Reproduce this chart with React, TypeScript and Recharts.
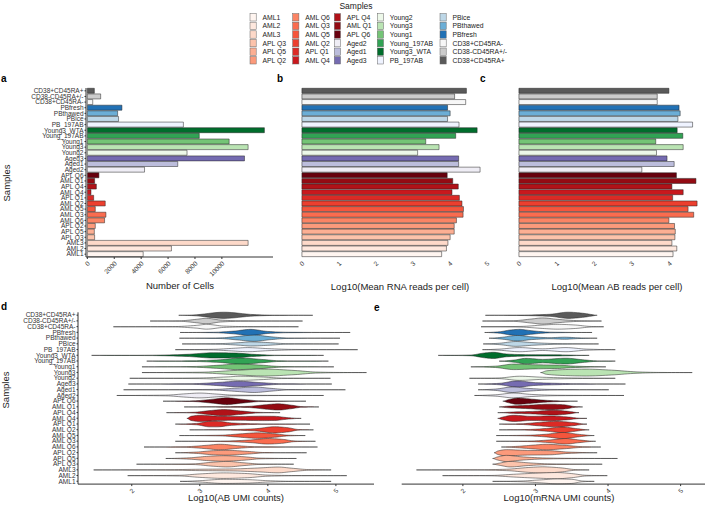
import React from "react";
import { BarChart, Bar, Cell, XAxis, YAxis } from "recharts";

const FONT = '"Liberation Sans", Arial, sans-serif';

// samples, top to bottom as drawn
const samples = [
  "CD38+CD45RA+", "CD38-CD45RA+/-", "CD38+CD45RA-", "PBfresh", "PBthawed", "PBice", "PB_197AB",
  "Young3_WTA", "Young_197AB", "Young1", "Young3", "Young2", "Aged3", "Aged1", "Aged2",
  "APL Q6", "AML Q1", "APL Q4", "AML Q4", "APL Q1", "AML Q2", "AML Q5", "AML Q3", "AML Q6",
  "APL Q2", "APL Q5", "APL Q3", "AML3", "AML2", "AML1",
];

const sampleColors = [
  "#5a5a5a", "#cccccc", "#f7f7f7", "#2171b5", "#6baed6", "#bdd7e7", "#eff3ff",
  "#006d2c", "#31a354", "#74c476", "#bae4b3", "#edf8e9", "#756bb1", "#bcbddc", "#efedf5",
  "#67000d", "#940b13", "#b11218", "#c9181d", "#dc2a25", "#ec3f2f", "#f5553c", "#fa6c4f", "#fb8464",
  "#fc9a7b", "#fcaf93", "#fcc3ab", "#fdd9c9", "#fee8de", "#fff5f0",
];

const cellCounts = [
  520, 990, 400, 2570, 2250, 2320, 7140, 13160, 8320, 10540, 11950, 7410, 11680, 6720, 4250,
  860, 540, 670, 270, 470, 1330, 590, 1380, 1280, 590, 520, 540, 11950, 6250, 4150,
];

const rnaReads = [
  4.45, 4.13, 4.43, 3.94, 4.01, 3.94, 4.25, 4.74, 4.16, 3.35, 3.71, 3.13, 4.24, 4.24, 4.82,
  3.93, 4.08, 4.23, 4.06, 4.26, 4.33, 4.37, 4.36, 4.18, 4.12, 4.12, 4.01, 3.95, 3.91, 3.78,
];

const abReads = [
  3.99, 3.68, 3.68, 4.26, 4.29, 4.23, 4.62, 4.21, 4.36, 3.64, 4.37, 3.66, 3.94, 4.13, 3.27,
  4.19, 4.71, 4.07, 4.37, 4.09, 4.74, 4.5, 4.65, 3.99, 4.14, 4.16, 4.15, 4.07, 4.2, 4.1,
];

const cellTicks = [0, 2000, 4000, 6000, 8000, 10000];
const rnaTicks = [0, 1, 2, 3, 4, 5];
const abTicks = [0, 1, 2, 3, 4];
const umiTicks = [2, 3, 4, 5];

// violin outlines: [log10 count, half width as share of a row]
const abUmiViolins = [
  [[2.69, 0], [2.9, 0.05], [3.35, 0.45], [3.8, 0.1], [4.1, 0.02], [4.66, 0]],
  [[2.27, 0], [2.7, 0.03], [2.95, 0.25], [3.1, 0.4], [3.3, 0.15], [3.6, 0.03], [4.51, 0]],
  [[1.73, 0], [2.6, 0.02], [2.95, 0.2], [3.1, 0.35], [3.35, 0.1], [3.7, 0.02], [4.45, 0]],
  [[2.71, 0], [3.2, 0.03], [3.5, 0.2], [3.75, 0.45], [4.0, 0.15], [4.3, 0.03], [5.21, 0]],
  [[2.7, 0], [3.3, 0.05], [3.55, 0.25], [3.8, 0.45], [4.05, 0.2], [4.3, 0.03], [5.06, 0]],
  [[2.74, 0], [3.3, 0.05], [3.6, 0.2], [3.75, 0.3], [4.0, 0.2], [4.3, 0.03], [5.04, 0]],
  [[2.64, 0], [3.2, 0.05], [3.5, 0.2], [3.7, 0.3], [4.0, 0.15], [4.4, 0.03], [5.32, 0]],
  [[1.41, 0], [2.3, 0.03], [2.8, 0.15], [3.2, 0.38], [3.5, 0.35], [3.8, 0.15], [4.1, 0.03], [4.82, 0]],
  [[2.22, 0], [2.9, 0.05], [3.3, 0.2], [3.6, 0.45], [3.9, 0.25], [4.2, 0.04], [4.89, 0]],
  [[2.15, 0], [2.9, 0.05], [3.3, 0.25], [3.55, 0.4], [3.9, 0.25], [4.2, 0.05], [4.97, 0]],
  [[2.15, 0], [3.0, 0.05], [3.5, 0.3], [3.95, 0.5], [4.4, 0.3], [4.7, 0.08], [5.0, 0.02], [5.45, 0]],
  [[1.97, 0], [3.0, 0.05], [3.4, 0.2], [3.6, 0.3], [3.9, 0.2], [4.2, 0.04], [4.92, 0]],
  [[1.95, 0], [2.9, 0.05], [3.3, 0.25], [3.55, 0.4], [3.9, 0.2], [4.2, 0.04], [4.94, 0]],
  [[1.88, 0], [3.2, 0.05], [3.55, 0.25], [3.8, 0.4], [4.05, 0.2], [4.3, 0.03], [5.14, 0]],
  [[1.78, 0], [2.5, 0.05], [2.8, 0.25], [3.0, 0.35], [3.25, 0.2], [3.5, 0.05], [4.82, 0]],
  [[2.46, 0], [2.9, 0.05], [3.2, 0.3], [3.4, 0.5], [3.6, 0.3], [3.9, 0.05], [4.56, 0]],
  [[2.77, 0], [3.3, 0.03], [3.7, 0.08], [3.95, 0.3], [4.15, 0.45], [4.35, 0.25], [4.5, 0.05], [4.75, 0]],
  [[2.51, 0], [2.9, 0.05], [3.15, 0.3], [3.35, 0.45], [3.6, 0.25], [3.85, 0.05], [4.18, 0]],
  [[2.81, 0], [2.87, 0.3], [3.0, 0.45], [3.3, 0.3], [3.6, 0.28], [3.9, 0.32], [4.1, 0.3], [4.3, 0.1], [4.49, 0]],
  [[2.64, 0], [2.95, 0.1], [3.15, 0.4], [3.25, 0.4], [3.5, 0.15], [3.9, 0.03], [4.62, 0]],
  [[2.85, 0], [3.4, 0.03], [3.8, 0.15], [4.1, 0.45], [4.3, 0.3], [4.45, 0.05], [4.67, 0]],
  [[2.7, 0], [3.3, 0.05], [3.6, 0.25], [3.85, 0.4], [4.1, 0.25], [4.3, 0.05], [4.55, 0]],
  [[2.64, 0], [3.4, 0.05], [3.75, 0.2], [4.0, 0.4], [4.2, 0.3], [4.4, 0.05], [4.7, 0]],
  [[2.18, 0], [2.8, 0.05], [3.1, 0.25], [3.3, 0.4], [3.55, 0.2], [3.8, 0.05], [4.73, 0]],
  [[2.64, 0], [2.95, 0.1], [3.2, 0.3], [3.4, 0.35], [3.7, 0.2], [3.95, 0.03], [4.57, 0]],
  [[2.5, 0], [2.85, 0.1], [3.1, 0.3], [3.35, 0.4], [3.65, 0.25], [3.9, 0.05], [4.42, 0]],
  [[2.07, 0], [2.9, 0.05], [3.2, 0.3], [3.4, 0.4], [3.65, 0.2], [3.9, 0.03], [4.38, 0]],
  [[1.44, 0], [2.5, 0.03], [3.0, 0.1], [3.5, 0.15], [3.9, 0.3], [4.15, 0.42], [4.35, 0.25], [4.6, 0.05], [4.93, 0]],
  [[1.94, 0], [2.7, 0.05], [3.0, 0.25], [3.35, 0.4], [3.7, 0.3], [4.0, 0.08], [4.4, 0.02], [5.16, 0]],
  [[2.71, 0], [3.0, 0.1], [3.35, 0.3], [3.7, 0.25], [4.0, 0.1], [4.3, 0.02], [4.93, 0]],
];

const rnaUmiViolins = [
  [[2.31, 0], [2.8, 0.03], [3.2, 0.15], [3.45, 0.45], [3.65, 0.3], [3.78, 0.1], [3.85, 0]],
  [[2.27, 0], [2.7, 0.05], [2.95, 0.3], [3.1, 0.45], [3.3, 0.25], [3.6, 0.05], [3.91, 0]],
  [[2.25, 0], [2.8, 0.05], [3.1, 0.25], [3.3, 0.35], [3.55, 0.25], [3.75, 0.05], [3.94, 0]],
  [[2.3, 0], [2.5, 0.1], [2.65, 0.35], [2.78, 0.45], [2.95, 0.25], [3.2, 0.05], [3.78, 0]],
  [[2.36, 0], [2.55, 0.15], [2.75, 0.4], [2.95, 0.2], [3.2, 0.08], [3.4, 0.15], [3.6, 0.05], [3.85, 0]],
  [[2.28, 0], [2.5, 0.1], [2.73, 0.35], [2.95, 0.2], [3.3, 0.05], [3.87, 0]],
  [[2.27, 0], [2.5, 0.08], [2.78, 0.3], [3.1, 0.12], [3.42, 0.3], [3.7, 0.08], [4.1, 0]],
  [[1.66, 0], [2.1, 0.05], [2.3, 0.35], [2.42, 0.45], [2.6, 0.2], [2.9, 0.1], [3.3, 0.08], [3.6, 0.02], [3.74, 0]],
  [[2.5, 0], [2.7, 0.15], [2.87, 0.4], [3.1, 0.25], [3.42, 0.42], [3.65, 0.2], [3.85, 0.03], [4.1, 0]],
  [[2.11, 0], [2.45, 0.1], [2.7, 0.4], [3.0, 0.3], [3.3, 0.25], [3.55, 0.1], [3.97, 0]],
  [[3.07, 0], [3.15, 0.25], [3.45, 0.45], [3.7, 0.5], [4.05, 0.35], [4.4, 0.1], [4.7, 0.02], [5.16, 0]],
  [[2.09, 0], [2.5, 0.05], [2.78, 0.3], [3.1, 0.15], [3.5, 0.05], [4.1, 0]],
  [[2.21, 0], [2.5, 0.1], [2.75, 0.45], [3.0, 0.2], [3.3, 0.1], [3.6, 0.03], [4.24, 0]],
  [[2.21, 0], [2.45, 0.1], [2.68, 0.4], [2.9, 0.2], [3.2, 0.05], [4.01, 0]],
  [[2.16, 0], [2.45, 0.1], [2.7, 0.35], [2.95, 0.15], [3.3, 0.03], [4.22, 0]],
  [[2.55, 0], [2.62, 0.2], [2.75, 0.45], [2.95, 0.3], [3.2, 0.1], [3.58, 0]],
  [[2.5, 0], [2.6, 0.1], [2.9, 0.25], [3.2, 0.4], [3.4, 0.3], [3.55, 0.05], [3.65, 0]],
  [[2.48, 0], [2.7, 0.1], [3.0, 0.2], [3.25, 0.35], [3.45, 0.2], [3.6, 0]],
  [[2.48, 0], [2.55, 0.2], [2.7, 0.45], [2.95, 0.3], [3.2, 0.35], [3.45, 0.2], [3.6, 0.03], [3.71, 0]],
  [[2.5, 0], [2.8, 0.05], [3.05, 0.25], [3.28, 0.4], [3.5, 0.25], [3.71, 0]],
  [[2.5, 0], [2.9, 0.05], [3.15, 0.2], [3.38, 0.4], [3.55, 0.2], [3.74, 0]],
  [[2.46, 0], [2.9, 0.05], [3.15, 0.2], [3.38, 0.45], [3.58, 0.2], [3.81, 0]],
  [[2.46, 0], [2.95, 0.05], [3.2, 0.2], [3.42, 0.4], [3.6, 0.2], [3.83, 0]],
  [[2.53, 0], [2.75, 0.1], [3.0, 0.3], [3.15, 0.4], [3.4, 0.25], [3.65, 0.05], [3.9, 0]],
  [[2.43, 0], [2.48, 0.25], [2.6, 0.45], [2.85, 0.35], [3.2, 0.3], [3.45, 0.1], [3.85, 0]],
  [[2.41, 0], [2.47, 0.2], [2.6, 0.45], [2.8, 0.25], [3.1, 0.08], [3.5, 0.02], [4.13, 0]],
  [[2.41, 0], [2.5, 0.15], [2.65, 0.4], [2.9, 0.2], [3.2, 0.05], [3.92, 0]],
  [[1.36, 0], [2.2, 0.02], [2.6, 0.1], [2.9, 0.35], [3.1, 0.45], [3.35, 0.3], [3.55, 0.05], [3.74, 0]],
  [[1.72, 0], [2.4, 0.03], [2.7, 0.2], [3.0, 0.35], [3.3, 0.45], [3.5, 0.3], [3.7, 0.05], [3.99, 0]],
  [[2.41, 0], [2.8, 0.05], [3.05, 0.2], [3.3, 0.35], [3.5, 0.3], [3.65, 0.05], [3.81, 0]],
];

type Knot = number[];
type Row = {
  sample: string;
  color: string;
  cells: number;
  rna: number;
  ab: number;
  abV: Knot[];
  rnaV: Knot[];
};

const rows: Row[] = samples.map((s, i) => ({
  sample: s,
  color: sampleColors[i],
  cells: cellCounts[i],
  rna: rnaReads[i],
  ab: abReads[i],
  abV: abUmiViolins[i],
  rnaV: rnaUmiViolins[i],
}));

const INK = "#333";

// monotone cubic through the knots so the outline never dips under zero
function smooth(knots: Knot[], steps = 8): Knot[] {
  const n = knots.length;
  const xs = knots.map((k) => k[0]);
  const ys = knots.map((k) => k[1]);
  const h: number[] = [];
  const d: number[] = [];
  for (let i = 0; i < n - 1; i++) {
    h[i] = xs[i + 1] - xs[i];
    d[i] = (ys[i + 1] - ys[i]) / h[i];
  }
  const m: number[] = new Array(n).fill(0);
  for (let i = 1; i < n - 1; i++) {
    if (d[i - 1] * d[i] > 0) {
      const w1 = 2 * h[i] + h[i - 1];
      const w2 = h[i] + 2 * h[i - 1];
      m[i] = (w1 + w2) / (w1 / d[i - 1] + w2 / d[i]);
    }
  }
  const out: Knot[] = [];
  for (let i = 0; i < n - 1; i++) {
    for (let s = 0; s < steps; s++) {
      const t = s / steps;
      const t2 = t * t;
      const t3 = t2 * t;
      const y =
        (2 * t3 - 3 * t2 + 1) * ys[i] +
        (t3 - 2 * t2 + t) * h[i] * m[i] +
        (-2 * t3 + 3 * t2) * ys[i + 1] +
        (t3 - t2) * h[i] * m[i + 1];
      out.push([xs[i] + t * h[i], Math.max(0, y)]);
    }
  }
  out.push([xs[n - 1], ys[n - 1]]);
  return out;
}

const violinShape = (key: "abV" | "rnaV") => (props: any) => {
  const { x, y, width, height, index } = props;
  const entry: Row = props.payload && props.payload[key] ? props.payload : rows[index];
  const knots = entry[key];
  const lo = knots[0][0];
  const hi = knots[knots.length - 1][0];
  const toX = (v: number) => x + ((v - lo) / (hi - lo)) * width;
  const cy = y + height / 2;
  const pts = smooth(knots);
  const half = height * 1.15;
  const top = pts.map((p) => `${toX(p[0]).toFixed(2)},${(cy - p[1] * half).toFixed(2)}`);
  const bot = pts
    .slice()
    .reverse()
    .map((p) => `${toX(p[0]).toFixed(2)},${(cy + p[1] * half).toFixed(2)}`);
  return (
    <path d={`M${top.join("L")}L${bot.join("L")}Z`} fill={entry.color} stroke="#222" strokeWidth={0.5} />
  );
};

const SlantTick = (props: any) => {
  const { x, y, payload } = props;
  const ax = x + 3;
  const ay = y + 5;
  return (
    <text
      x={ax}
      y={ay}
      transform={`rotate(-45 ${ax} ${ay})`}
      textAnchor="end"
      fontSize={6.5}
      fill={INK}
      fontFamily={FONT}
    >
      {payload.value}
    </text>
  );
};

const sampleTick = { fontSize: 6.5, fill: INK, fontFamily: FONT };

function Panel({ left, top, children }: { left: number; top: number; children: React.ReactNode }) {
  return <div style={{ position: "absolute", left, top }}>{children}</div>;
}

function Legend() {
  const order = samples.slice().reverse();
  const boxX = [250, 292.7, 334.3, 377.3, 440];
  return (
    <g fontFamily={FONT}>
      <text x={356} y={9} textAnchor="middle" fontSize={8.5} fill="#222">
        Samples
      </text>
      {order.map((s, i) => {
        const col = Math.floor(i / 6);
        const row = i % 6;
        const cy = 17.3 + row * 8.6;
        const color = sampleColors[samples.indexOf(s)];
        return (
          <g key={s}>
            <rect x={boxX[col]} y={cy - 3.7} width={6.2} height={7.4} fill={color} stroke="#666" strokeWidth={0.5} />
            <text x={boxX[col] + 12.5} y={cy + 2.4} fontSize={6.8} fill="#222">
              {s}
            </text>
          </g>
        );
      })}
    </g>
  );
}

export default function App() {
  return (
    <div
      style={{ position: "absolute", left: 0, top: 0, width: 706, height: 506, background: "#fff", fontFamily: FONT }}
    >
      {/* a: number of cells */}
      <Panel left={0} top={80}>
        <BarChart
          width={290}
          height={230}
          data={rows}
          layout="vertical"
          margin={{ top: 8, right: 17, left: 0, bottom: 0 }}
          barCategoryGap="5%"
        >
          <XAxis
            type="number"
            domain={[-100, 13800]}
            ticks={cellTicks}
            interval={0}
            tick={SlantTick}
            tickSize={2}
            tickMargin={0}
            height={53}
            stroke={INK}
            allowDataOverflow
          />
          <YAxis
            type="category"
            dataKey="sample"
            width={86}
            interval={0}
            tickSize={1.5}
            tickMargin={1}
            tick={sampleTick}
            stroke={INK}
          />
          <Bar dataKey="cells" stroke="#222" strokeWidth={0.5} isAnimationActive={false}>
            {rows.map((r) => (
              <Cell key={r.sample} fill={r.color} />
            ))}
          </Bar>
        </BarChart>
      </Panel>

      {/* b: mean RNA reads */}
      <Panel left={288} top={80}>
        <BarChart
          width={203}
          height={230}
          data={rows}
          layout="vertical"
          margin={{ top: 8, right: 2, left: 5, bottom: 0 }}
          barCategoryGap="5%"
        >
          <XAxis
            type="number"
            domain={[-0.241, 5.061]}
            ticks={rnaTicks}
            interval={0}
            tick={SlantTick}
            tickSize={2}
            tickMargin={0}
            tickLine={false}
            axisLine={false}
            height={53}
            allowDataOverflow
          />
          <YAxis type="category" dataKey="sample" width={0} tick={false} tickLine={false} stroke={INK} />
          <Bar dataKey="rna" stroke="#222" strokeWidth={0.5} isAnimationActive={false}>
            {rows.map((r) => (
              <Cell key={r.sample} fill={r.color} />
            ))}
          </Bar>
        </BarChart>
      </Panel>

      {/* c: mean AB reads */}
      <Panel left={500} top={80}>
        <BarChart
          width={206}
          height={230}
          data={rows}
          layout="vertical"
          margin={{ top: 8, right: 0, left: 10, bottom: 0 }}
          barCategoryGap="5%"
        >
          <XAxis
            type="number"
            domain={[-0.237, 4.977]}
            ticks={abTicks}
            interval={0}
            tick={SlantTick}
            tickSize={2}
            tickMargin={0}
            tickLine={false}
            axisLine={false}
            height={53}
            allowDataOverflow
          />
          <YAxis type="category" dataKey="sample" width={0} tick={false} tickLine={false} stroke={INK} />
          <Bar dataKey="ab" stroke="#222" strokeWidth={0.5} isAnimationActive={false}>
            {rows.map((r) => (
              <Cell key={r.sample} fill={r.color} />
            ))}
          </Bar>
        </BarChart>
      </Panel>

      {/* d: AB UMI violins */}
      <Panel left={0} top={300}>
        <BarChart
          width={380}
          height={206}
          data={rows}
          layout="vertical"
          margin={{ top: 12.3, right: 6, left: 0, bottom: 0 }}
          barCategoryGap={0}
        >
          <XAxis
            type="number"
            domain={[1.21, 5.56]}
            ticks={umiTicks}
            interval={0}
            tick={SlantTick}
            tickSize={2}
            tickMargin={0}
            height={21.9}
            stroke={INK}
            allowDataOverflow
          />
          <YAxis
            type="category"
            dataKey="sample"
            width={78}
            interval={0}
            tickSize={1.5}
            tickMargin={1}
            tick={sampleTick}
            stroke={INK}
          />
          <Bar
            dataKey={(r: Row) => [r.abV[0][0], r.abV[r.abV.length - 1][0]]}
            shape={violinShape("abV")}
            isAnimationActive={false}
          />
        </BarChart>
      </Panel>

      {/* e: mRNA UMI violins */}
      <Panel left={390} top={300}>
        <BarChart
          width={316}
          height={206}
          data={rows}
          layout="vertical"
          margin={{ top: 12.3, right: 1, left: 11.7, bottom: 0 }}
          barCategoryGap={0}
        >
          <XAxis
            type="number"
            domain={[1.157, 5.336]}
            ticks={umiTicks}
            interval={0}
            tick={SlantTick}
            tickSize={2}
            tickMargin={0}
            height={21.9}
            stroke={INK}
            allowDataOverflow
          />
          <YAxis type="category" dataKey="sample" width={0} tick={false} tickLine={false} stroke={INK} />
          <Bar
            dataKey={(r: Row) => [r.rnaV[0][0], r.rnaV[r.rnaV.length - 1][0]]}
            shape={violinShape("rnaV")}
            isAnimationActive={false}
          />
        </BarChart>
      </Panel>

      <svg
        width={706}
        height={506}
        style={{ position: "absolute", left: 0, top: 0, pointerEvents: "none" }}
        fontFamily={FONT}
      >
        <Legend />
        <g fontWeight="bold" fontSize={10} fill="#000">
          <text x={1} y={82}>a</text>
          <text x={277} y={82}>b</text>
          <text x={480} y={82}>c</text>
          <text x={1} y={310}>d</text>
          <text x={374} y={311}>e</text>
        </g>
        <g fontSize={9.5} fill="#222" textAnchor="middle">
          <text x={0} y={0} transform="translate(10 183) rotate(-90)">Samples</text>
          <text x={0} y={0} transform="translate(8.5 390) rotate(-90)">Samples</text>
          <text x={180} y={289}>Number of Cells</text>
          <text x={400} y={290}>Log10(Mean RNA reads per cell)</text>
          <text x={617} y={290}>Log10(Mean AB reads per cell)</text>
          <text x={236} y={501}>Log10(AB UMI counts)</text>
          <text x={559} y={501}>Log10(mRNA UMI counts)</text>
        </g>
      </svg>
    </div>
  );
}
